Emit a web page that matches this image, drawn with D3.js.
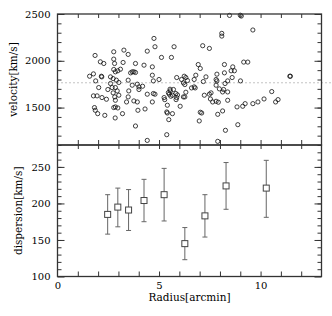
<!DOCTYPE html>
<html>
<head>
<meta charset="utf-8">
<script src="https://cdn.jsdelivr.net/npm/d3@7"></script>
<style>
  body { margin: 0; background: #fff; }
  text { font-family: "DejaVu Serif", serif; fill: #000; }
</style>
</head>
<body>
<svg></svg>
<script>
// galaxies: projected radius [arcmin] and velocity [km/s]
const radius = [1.85,2.11,2.28,1.58,1.77,1.88,2.16,2.18,2.03,1.77,1.95,1.82,1.86,1.98,2.33,2.19,2.41,2.48,2.69,2.61,2.61,2.77,2.77,2.81,2.77,2.85,2.74,2.90,3.02,2.97,3.10,3.23,3.27,3.48,2.85,2.74,2.94,2.82,2.85,2.85,2.77,2.97,3.02,2.84,3.20,3.40,3.48,3.51,3.48,3.60,3.68,3.76,3.84,3.84,3.93,4.01,4.01,3.68,3.76,3.93,3.96,3.84,4.19,4.26,4.42,4.67,4.67,4.72,4.72,4.42,4.31,4.42,4.80,4.80,4.75,5.00,4.67,
  8.47,9.00,9.05,8.09,8.09,9.62,5.74,7.15,7.48,5.12,5.61,6.93,7.03,8.22,8.63,8.55,8.71,9.17,9.37,8.22,7.85,7.31,7.81,7.85,9.01,8.38,8.60,6.81,6.73,7.18,8.25,7.97,7.81,6.24,6.32,6.11,5.87,6.40,6.20,6.27,6.73,6.78,6.60,5.55,5.54,5.46,5.71,5.58,5.50,5.66,5.83,5.91,5.25,5.28,5.87,5.84,6.20,6.27,6.32,7.23,7.48,7.56,7.53,7.81,7.64,7.92,8.38,8.38,8.13,8.18,8.84,9.12,9.24,9.62,9.87,10.17,10.55,10.74,10.86,11.44,11.47,5.41,6.04,5.38,5.41,5.66,5.48,7.03,7.10,6.98,7.89,8.13,8.88,8.27,5.38,7.89];
const velocity = [2057,1989,1971,1835,1860,1785,1835,1828,1714,1625,1625,1500,1471,1435,1417,1607,1589,1693,1714,1757,1828,2096,2018,1971,1907,1882,1810,1793,1768,1893,1910,1982,2114,2068,1714,1657,1678,1614,1578,1507,1500,1496,1632,1389,1435,1560,1614,1678,1793,1871,1882,1882,1875,1971,1750,1721,1693,1739,1571,1560,1471,1303,1728,1953,2103,1935,1846,1785,1650,1643,1485,1149,1643,2150,2239,1800,1560,
  2485,2487,2478,2293,2264,2329,2150,2161,2132,2036,2036,1960,1918,1960,1935,1893,1893,1986,1986,1871,1857,1828,1800,1785,1785,1785,1821,1846,1800,1778,1757,1700,1739,1835,1821,1800,1821,1789,1764,1746,1721,1710,1710,1678,1696,1660,1693,1621,1643,1632,1650,1635,1607,1585,1607,1585,1614,1614,1664,1632,1643,1657,1592,1567,1560,1557,1578,1667,1667,1693,1507,1514,1542,1542,1560,1592,1671,1560,1585,1835,1835,1525,1514,1453,1442,1435,1371,1450,1442,1357,1428,1464,1317,1257,1210,1139];
const meanVelocity = 1765;

// velocity dispersion in radial bins
const binRadius = [2.47, 2.97, 3.50, 4.26, 5.25, 6.27, 7.26, 8.30, 10.28];
const dispersion = [185, 195, 191, 204, 212, 145, 183, 224, 221];
const dispLow = [158, 168, 163, 175, 176, 123, 154, 192, 181];
const dispHigh = [212, 221, 219, 233, 248, 167, 212, 256, 259];

const width = 332;
const height = 316;
const svg = d3.select("svg").attr("width", width).attr("height", height);

const x = d3.scaleLinear().domain([0, 13]).range([57.5, 321.5]);
const yTop = d3.scaleLinear().domain([1100, 2500]).range([145, 14]);
const yBot = d3.scaleLinear().domain([100, 280]).range([276.5, 145]);

const axisColor = "#333";

function panelAxes(y, majors, minors, showX) {
  const g = svg.append("g");
  const [x0, x1] = x.range();
  const [yb, yt] = y.range();

  // kleine en grote streepjes, naar binnen
  const left = g.append("g").attr("transform", `translate(${x0},0)`);
  left.call(d3.axisLeft(y).tickValues(minors).tickSize(-4).tickFormat(""));
  left.append("g").call(d3.axisLeft(y).tickValues(majors).tickSize(-7).tickPadding(7).tickFormat(d3.format("d")));

  const right = g.append("g").attr("transform", `translate(${x1},0)`);
  right.call(d3.axisRight(y).tickValues(minors).tickSize(-4).tickFormat(""));
  right.append("g").call(d3.axisRight(y).tickValues(majors).tickSize(-7).tickFormat(""));

  const bottom = g.append("g").attr("transform", `translate(0,${yb})`);
  bottom.call(d3.axisBottom(x).tickValues(d3.range(1, 13)).tickSize(-5).tickFormat(""));
  if (showX) {
    bottom.append("g").call(d3.axisBottom(x).tickValues([0, 5, 10]).tickSize(0).tickPadding(5).tickFormat(d3.format("d")));
  }

  const top = g.append("g").attr("transform", `translate(0,${yt})`);
  top.call(d3.axisTop(x).tickValues(d3.range(1, 13)).tickSize(-4).tickFormat(""));

  g.selectAll(".domain").remove();
  g.selectAll(".tick line").attr("stroke", axisColor).attr("stroke-width", 1);
  g.selectAll(".tick text")
    .attr("font-family", "DejaVu Serif, serif")
    .attr("font-size", 10)
    .attr("fill", "#000");

  g.append("rect")
    .attr("x", x0).attr("y", yt)
    .attr("width", x1 - x0).attr("height", yb - yt)
    .attr("fill", "none")
    .attr("stroke", axisColor)
    .attr("stroke-width", 1.3);
}

// bovenste paneel: snelheden
svg.append("line")
  .attr("x1", x(0)).attr("x2", 331)
  .attr("y1", yTop(meanVelocity)).attr("y2", yTop(meanVelocity))
  .attr("stroke", "#888")
  .attr("stroke-width", 1)
  .attr("stroke-dasharray", "1,3");

svg.append("g").selectAll("circle")
  .data(radius.map((r, i) => [r, velocity[i]]))
  .enter().append("circle")
  .attr("cx", d => x(d[0]))
  .attr("cy", d => yTop(d[1]))
  .attr("r", 2.1)
  .attr("fill", "none")
  .attr("stroke", "#111")
  .attr("stroke-width", 0.8);

panelAxes(yTop, [1500, 2000, 2500], d3.range(1100, 2500, 100), false);

// onderste paneel: dispersie met foutbalken
const bins = binRadius.map((r, i) => ({ r: r, s: dispersion[i], lo: dispLow[i], hi: dispHigh[i] }));
const eb = svg.append("g").attr("stroke", "#666").attr("stroke-width", 1).attr("fill", "none");

eb.selectAll(".bar").data(bins).enter().append("line")
  .attr("x1", d => x(d.r)).attr("x2", d => x(d.r))
  .attr("y1", d => yBot(d.lo)).attr("y2", d => yBot(d.hi));
eb.selectAll(".capHi").data(bins).enter().append("line")
  .attr("x1", d => x(d.r) - 2.5).attr("x2", d => x(d.r) + 2.5)
  .attr("y1", d => yBot(d.hi)).attr("y2", d => yBot(d.hi));
eb.selectAll(".capLo").data(bins).enter().append("line")
  .attr("x1", d => x(d.r) - 2.5).attr("x2", d => x(d.r) + 2.5)
  .attr("y1", d => yBot(d.lo)).attr("y2", d => yBot(d.lo));
eb.selectAll("rect").data(bins).enter().append("rect")
  .attr("x", d => x(d.r) - 3)
  .attr("y", d => yBot(d.s) - 3)
  .attr("width", 6).attr("height", 6)
  .attr("fill", "#fff")
  .attr("stroke", "#444");

panelAxes(yBot, [100, 150, 200, 250], d3.range(110, 280, 10), true);

// aslabels
svg.append("text")
  .attr("transform", `translate(13,${(yTop.range()[0] + yTop.range()[1]) / 2}) rotate(-90)`)
  .attr("text-anchor", "middle")
  .attr("dy", "0.35em")
  .attr("font-size", 10.5)
  .text("velocity[km/s]");

svg.append("text")
  .attr("transform", `translate(18,${(yBot.range()[0] + yBot.range()[1]) / 2}) rotate(-90)`)
  .attr("text-anchor", "middle")
  .attr("dy", "0.35em")
  .attr("font-size", 10.5)
  .text("dispersion[km/s]");

svg.append("text")
  .attr("x", (x.range()[0] + x.range()[1]) / 2)
  .attr("y", 301)
  .attr("text-anchor", "middle")
  .attr("font-size", 10.5)
  .text("Radius[arcmin]");
</script>
</body>
</html>
